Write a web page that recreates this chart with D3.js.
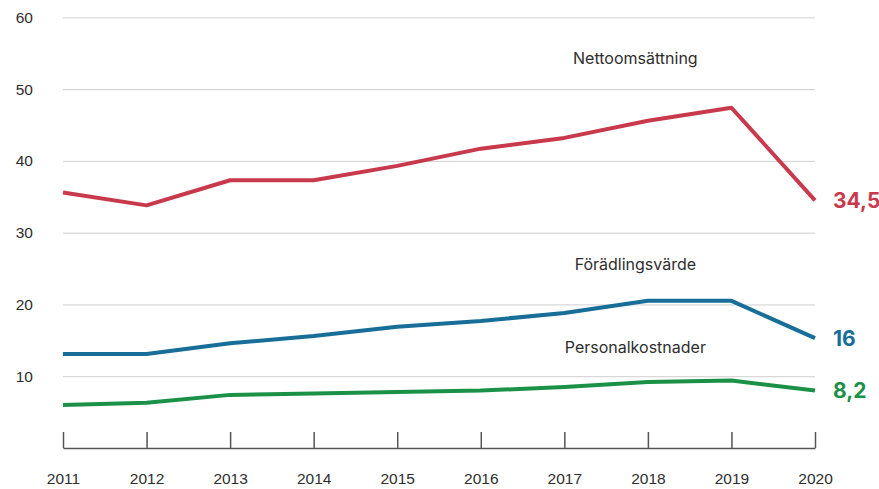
<!DOCTYPE html>
<html>
<head>
<meta charset="utf-8">
<script src="https://cdn.jsdelivr.net/npm/d3@7"></script>
<style>
  body { margin: 0; background: #fff; }
  svg { display: block; font-family: Inter, "Noto Sans", sans-serif; }
  .grid line { stroke: #cfcfcf; stroke-width: 1; }
  .grid text, .xaxis text { fill: #2e2e2e; font-size: 15.5px; }
  .xaxis path, .xaxis line { stroke: #555; stroke-width: 1.5; }
  .series-name { fill: #2e2e2e; font-size: 16px; text-anchor: middle; }
  .end-label { font-size: 21px; font-weight: 700; }
</style>
</head>
<body>
<svg id="chart" width="879" height="489"></svg>
<script>
var years = [2011, 2012, 2013, 2014, 2015, 2016, 2017, 2018, 2019, 2020];
var netto = [35.6, 33.8, 37.3, 37.3, 39.3, 41.7, 43.2, 45.6, 47.4, 34.5];
var foradling = [13.1, 13.1, 14.6, 15.6, 16.9, 17.7, 18.8, 20.5, 20.5, 15.3];
var personal = [6.0, 6.3, 7.4, 7.6, 7.8, 8.0, 8.5, 9.2, 9.4, 8.0];
var yTicks = [10, 20, 30, 40, 50, 60];

var seriesNames = ["Nettoomsättning", "Förädlingsvärde", "Personalkostnader"];
var endLabels = ["34,5", "16", "8,2"];
var colors = ["#c9394c", "#176e98", "#1b9148"];
var nameValues = [53.5, 24.8, 13.2]; // vertical spot of the series names, in data units
var nameYear = 2017.85;

var svg = d3.select("#chart");

var x = d3.scaleLinear().domain([2011, 2020]).range([63, 815]);
var y = d3.scaleLinear().domain([0, 60]).range([448, 17.3]);

// grid + y labels
svg.append("g")
  .attr("class", "grid")
  .attr("transform", "translate(63,0)")
  .call(d3.axisLeft(y).tickValues(yTicks).tickSize(-(815 - 63)).tickPadding(30))
  .call(function(g) { g.select(".domain").remove(); })
  .selectAll("text").attr("font-family", null);

// bottom axis with ticks pointing up
svg.append("g")
  .attr("class", "xaxis")
  .attr("transform", "translate(0," + y(0) + ")")
  .call(d3.axisBottom(x).tickValues(years).tickFormat(d3.format("d"))
    .tickSizeInner(-16).tickSizeOuter(0).tickPadding(25))
  .selectAll("text").attr("font-family", null);

var line = d3.line()
  .x(function(d, i) { return x(years[i]); })
  .y(function(d) { return y(d); });

var data = [netto, foradling, personal];

data.forEach(function(vals, k) {
  svg.append("path")
    .datum(vals)
    .attr("fill", "none")
    .attr("stroke", colors[k])
    .attr("stroke-width", 4)
    .attr("stroke-linejoin", "round")
    .attr("d", line);

  svg.append("text")
    .attr("class", "end-label")
    .attr("x", x(2020) + 18)
    .attr("y", y(vals[vals.length - 1]))
    .attr("dy", "0.36em")
    .attr("fill", colors[k])
    .text(endLabels[k]);

  svg.append("text")
    .attr("class", "series-name")
    .attr("x", x(nameYear))
    .attr("y", y(nameValues[k]))
    .text(seriesNames[k]);
});
</script>
</body>
</html>
